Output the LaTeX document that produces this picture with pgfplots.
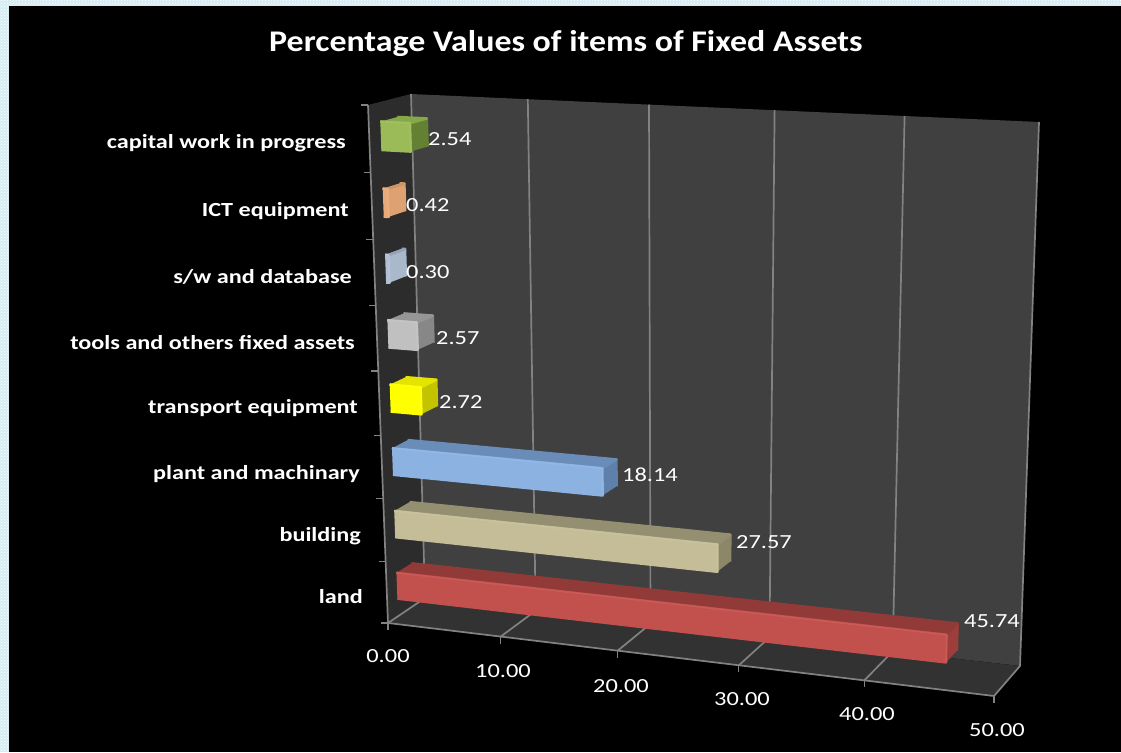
\documentclass[border=0pt]{standalone}
\usepackage{fontspec}
\usepackage{pgfplots}
\usetikzlibrary{patterns}
\pgfplotsset{compat=1.18}
\setmainfont{Carlito}
\newfontfamily\valfont[FakeStretch=1.22]{Carlito}
\newfontfamily\labfont[FakeStretch=1.21]{Carlito}
\newfontfamily\titfont[FakeStretch=1.13]{Carlito}
% projection of (value, height slot, depth) onto the picture of the 3-D box
\pgfmathdeclarefunction{warpv}{1}{\pgfmathparse{(#1/50)*(0.9125+0.0875*#1/50)}}
\pgfmathdeclarefunction{warph}{1}{\pgfmathparse{(#1/8)*(0.946+0.054*#1/8)}}
\pgfmathdeclarefunction{projx}{3}{\pgfmathparse{(1-#3)*((388+606*warpv(#1))+(-20+33*warpv(#1))*warph(#2))+#3*((425+595*warpv(#1))+(-14+33*warpv(#1))*warph(#2))}}
\pgfmathdeclarefunction{projy}{3}{\pgfmathparse{(1-#3)*((623+73*warpv(#1))+(-518-41*warpv(#1))*warph(#2))+#3*((598+68*warpv(#1))+(-504-40*warpv(#1))*warph(#2))}}
\definecolor{gridc}{RGB}{130,130,130}
\definecolor{wallb}{RGB}{64,64,64}
\definecolor{walll}{RGB}{44,44,44}
\definecolor{floorc}{RGB}{50,50,50}
\definecolor{pale}{RGB}{214,236,243}
\definecolor{cA}{RGB}{155,187,89}\definecolor{cAt}{RGB}{135,168,72}\definecolor{cAe}{RGB}{100,128,50}
\definecolor{cB}{RGB}{232,170,120}\definecolor{cBt}{RGB}{205,150,105}\definecolor{cBe}{RGB}{222,162,114}
\definecolor{cC}{RGB}{178,192,212}\definecolor{cCt}{RGB}{150,163,182}\definecolor{cCe}{RGB}{170,184,204}
\definecolor{cD}{RGB}{192,192,192}\definecolor{cDt}{RGB}{150,150,150}\definecolor{cDe}{RGB}{135,135,135}
\definecolor{cE}{RGB}{255,255,0}\definecolor{cEt}{RGB}{228,228,0}\definecolor{cEe}{RGB}{195,195,0}
\definecolor{cF}{RGB}{140,178,226}\definecolor{cFt}{RGB}{105,140,185}\definecolor{cFe}{RGB}{95,128,170}
\definecolor{cG}{RGB}{196,189,151}\definecolor{cGt}{RGB}{148,143,112}\definecolor{cGe}{RGB}{140,135,105}
\definecolor{cH}{RGB}{194,80,77}\definecolor{cHt}{RGB}{146,58,55}\definecolor{cHe}{RGB}{158,62,60}
\pgfplotsset{
  table/proj/.style={x expr={projx(\thisrow{v},\thisrow{h},\thisrow{d})},y expr={projy(\thisrow{v},\thisrow{h},\thisrow{d})},row sep=\\},
  face/.style={fill=#1,draw=#1,line width=2.6pt,line join=round,forget plot},
  gridl/.style={draw=gridc,line width=1.7pt,forget plot}
}
% slot, value, front, top, end
\newcommand{\hbarthree}[5]{%
  \addplot[face=#5] table[row sep=\\,x expr={projx(\thisrow{v},#1+\thisrow{h},\thisrow{d})},y expr={projy(\thisrow{v},#1+\thisrow{h},\thisrow{d})}]
    {v h d\\ #2 0.29 0.27\\ #2 0.71 0.27\\ #2 0.71 0.67\\ #2 0.29 0.67\\};
  \addplot[face=#4] table[row sep=\\,x expr={projx(\thisrow{v},#1+\thisrow{h},\thisrow{d})},y expr={projy(\thisrow{v},#1+\thisrow{h},\thisrow{d})}]
    {v h d\\ 0 0.71 0.27\\ #2 0.71 0.27\\ #2 0.71 0.67\\ 0 0.71 0.67\\};
  \addplot[face=#3] table[row sep=\\,x expr={projx(\thisrow{v},#1+\thisrow{h},\thisrow{d})},y expr={projy(\thisrow{v},#1+\thisrow{h},\thisrow{d})}]
    {v h d\\ 0 0.29 0.27\\ #2 0.29 0.27\\ #2 0.71 0.27\\ 0 0.71 0.27\\};
  \addplot[draw=#3!94!white,line width=1.6pt,line join=round,forget plot] table[row sep=\\,x expr={projx(\thisrow{v},#1+\thisrow{h},\thisrow{d})},y expr={projy(\thisrow{v},#1+\thisrow{h},\thisrow{d})}]
    {v h d\\ 0 0.71 0.27\\ #2 0.71 0.27\\ #2 0.29 0.27\\};
}
\newcommand{\gridv}[1]{%
  \addplot[gridl] table[proj] {v h d\\ #1 0 0\\ #1 0 1\\ #1 8 1\\};
  \addplot[draw=gridc,line width=1.1pt,forget plot] table[row sep=\\,x expr={projx(\thisrow{v},0,0)},y expr={projy(\thisrow{v},0,0)+\thisrow{o}}] {v o\\ #1 0\\ #1 7\\};
}
\newcommand{\tickh}[1]{%
  \addplot[draw=gridc,line width=1.1pt,forget plot] table[row sep=\\,x expr={projx(0,\thisrow{h},0)+\thisrow{o}},y expr={projy(0,\thisrow{h},0)}] {h o\\ #1 0\\ #1 -7\\};
}
\newcommand{\catlab}[3]{\node[font=\labfont\fontsize{20}{22}\selectfont\bfseries,text=white,anchor=base east,inner sep=0pt] at (axis cs:#1,#2) {#3};}
\newcommand{\vallab}[3]{\node[font=\valfont\fontsize{20}{22}\selectfont,text=white,anchor=base west,inner sep=0pt] at (axis cs:#1,#2) {#3};}
\newcommand{\ticklab}[3]{\node[font=\valfont\fontsize{20}{22}\selectfont,text=white,anchor=base,inner sep=0pt] at (axis cs:#1,#2) {#3};}
\begin{document}
\begin{tikzpicture}
\begin{axis}[
  scale only axis,width=1121pt,height=752pt,
  xmin=0,xmax=1121,ymin=0,ymax=752,y dir=reverse,
  axis lines=none,clip=false,
]
\fill[pale] (axis cs:0,0) rectangle (axis cs:1121,752);
\fill[pattern=crosshatch dots,pattern color=white] (axis cs:0,0) rectangle (axis cs:1121,752);
\fill[black] (axis cs:9,6) rectangle (axis cs:1121,752);
% walls and floor
\addplot[fill=wallb,draw=none,forget plot] table[proj] {v h d\\ 0 0 1\\ 0 8 1\\ 50 8 1\\ 50 0 1\\};
\addplot[fill=walll,draw=none,forget plot] table[proj] {v h d\\ 0 0 0\\ 0 8 0\\ 0 8 1\\ 0 0 1\\};
\addplot[fill=floorc,draw=none,forget plot] table[proj] {v h d\\ 0 0 0\\ 50 0 0\\ 50 0 1\\ 0 0 1\\};
% grid
\gridv{0}\gridv{10}\gridv{20}\gridv{30}\gridv{40}\gridv{50}
\addplot[gridl] table[proj] {v h d\\ 0 8 0\\ 0 0 0\\ 50 0 0\\};
\tickh{0}\tickh{1}\tickh{2}\tickh{3}\tickh{4}\tickh{5}\tickh{6}\tickh{7}\tickh{8}
% bars
\hbarthree{7}{2.54}{cA}{cAt}{cAe}
\hbarthree{6}{0.42}{cB}{cBt}{cBe}
\hbarthree{5}{0.30}{cC}{cCt}{cCe}
\hbarthree{4}{2.57}{cD}{cDt}{cDe}
\hbarthree{3}{2.72}{cE}{cEt}{cEe}
\hbarthree{2}{18.14}{cF}{cFt}{cFe}
\hbarthree{1}{27.57}{cG}{cGt}{cGe}
\hbarthree{0}{45.74}{cH}{cHt}{cHe}
% title
\node[font=\titfont\fontsize{30}{32}\selectfont\bfseries,text=white,anchor=base,inner sep=0pt] at (axis cs:566,52) {Percentage Values of items of Fixed Assets};
% category labels
\catlab{346}{148}{capital work in progress}
\catlab{349}{216}{ICT equipment}
\catlab{352}{283}{s/w and database}
\catlab{355}{349}{tools and others fixed assets}
\catlab{358}{413}{transport equipment}
\catlab{360}{479}{plant and machinary}
\catlab{361}{541}{building}
\catlab{363}{603}{land}
% value labels
\vallab{428}{145}{2.54}
\vallab{406}{211}{0.42}
\vallab{406}{278}{0.30}
\vallab{436}{344}{2.57}
\vallab{439}{408}{2.72}
\vallab{622}{481}{18.14}
\vallab{736}{548}{27.57}
\vallab{964}{627}{45.74}
% tick labels
\ticklab{388}{662}{0.00}
\ticklab{503}{677}{10.00}
\ticklab{621}{692}{20.00}
\ticklab{742}{705}{30.00}
\ticklab{867}{720}{40.00}
\ticklab{997}{736}{50.00}
\end{axis}
\end{tikzpicture}
\end{document}
